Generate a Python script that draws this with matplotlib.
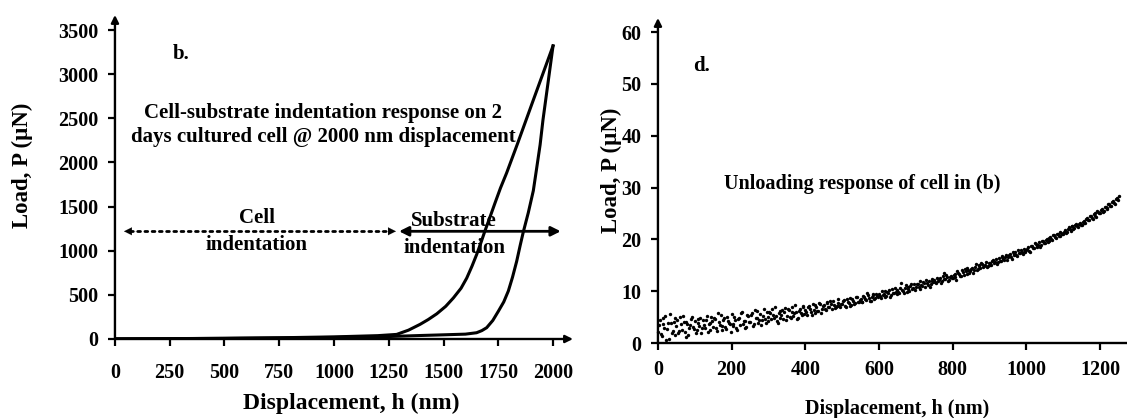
import matplotlib.pyplot as plt

plt.rcParams['font.family'] = ['Liberation Serif', 'DejaVu Serif']
plt.rcParams['font.weight'] = 'bold'
plt.rcParams['axes.labelweight'] = 'bold'

# ---------------------------------------------------------------- data
# (b) loading / unloading, displacement (nm) vs load (uN)
load_x = [0, 250, 500, 750, 1000, 1200, 1286, 1340, 1393, 1430, 1469, 1510,
          1545, 1580, 1606, 1630, 1651, 1670, 1689, 1712, 1735, 1760, 1788,
          1836, 1909, 2000]
load_y = [0, 4, 8, 14, 24, 38, 52, 100, 166, 220, 285, 370,
          465, 575, 690, 825, 955, 1085, 1223, 1380, 1540, 1710, 1880,
          2200, 2700, 3320]
unload_x = [2000, 1977, 1954, 1941, 1925, 1910, 1887, 1864, 1850, 1834, 1815,
            1796, 1775, 1751, 1725, 1697, 1675, 1651, 1600, 1469, 1400, 1250,
            1000, 750, 500, 250, 0]
unload_y = [3320, 2900, 2480, 2200, 1930, 1680, 1430, 1210, 1060, 880, 700,
            544, 420, 317, 210, 128, 95, 71, 55, 45, 40, 28,
            18, 12, 7, 4, 3]

# (d) unloading response of the cell, displacement (nm) vs load (uN)
cell_x = [
    0, 5, 10, 15, 20, 25, 30, 35, 40, 45, 50, 55, 60, 65, 70, 75, 80, 85, 90, 95,
    100, 105, 110, 115, 120, 125, 130, 135, 140, 145, 150, 155, 160, 165, 170,
    175, 180, 185, 190, 195, 200, 205, 210, 215, 220, 225, 230, 235, 240, 245,
    250, 255, 260, 265, 270, 275, 280, 285, 290, 295, 300, 305, 310, 315, 320,
    325, 330, 335, 340, 345, 350, 355, 360, 365, 370, 375, 380, 385, 390, 395,
    400, 405, 410, 415, 420, 425, 430, 435, 440, 445, 450, 455, 460, 465, 470,
    475, 480, 485, 490, 495, 500, 505, 510, 515, 520, 525, 530, 535, 540, 545,
    550, 555, 560, 565, 570, 575, 580, 585, 590, 595, 600, 605, 610, 615, 620,
    625, 630, 635, 640, 645, 650, 655, 660, 665, 670, 675, 680, 685, 690, 695,
    700, 705, 710, 715, 720, 725, 730, 735, 740, 745, 750, 755, 760, 765, 770,
    775, 780, 785, 790, 795, 800, 805, 810, 815, 820, 825, 830, 835, 840, 845,
    850, 855, 860, 865, 870, 875, 880, 885, 890, 895, 900, 905, 910, 915, 920,
    925, 930, 935, 940, 945, 950, 955, 960, 965, 970, 975, 980, 985, 990, 995,
    1000, 1005, 1010, 1015, 1020, 1025, 1030, 1035, 1040, 1045, 1050, 1055,
    1060, 1065, 1070, 1075, 1080, 1085, 1090, 1095, 1100, 1105, 1110, 1115,
    1120, 1125, 1130, 1135, 1140, 1145, 1150, 1155, 1160, 1165, 1170, 1175,
    1180, 1185, 1190, 1195, 1200, 1205, 1210, 1215, 1220, 1225, 1230, 1235,
    1240, 1245, 1250]
cell_y = [
    2.1, 4.4, 1.3, 3.6, 5.2, 2.7, 0.8, 3.9, 2.4, 4.8,
    3.3, 1.9, 5.0, 2.6, 4.1, 1.2, 3.7, 2.9, 4.6, 3.1,
    4.2, 2.5, 3.8, 4.9, 2.8, 3.5, 4.4, 2.2, 3.9, 5.1,
    3.0, 4.6, 2.4, 4.0, 5.4, 3.3, 4.8, 2.7, 4.3, 3.6,
    5.6, 3.2, 4.5, 2.6, 4.9, 5.8, 3.7, 4.2, 3.0, 5.2,
    4.1, 5.7, 3.6, 4.8, 6.2, 4.4, 3.5, 5.3, 4.7, 5.9,
    4.3, 5.8, 6.6, 4.9, 5.3, 3.9, 6.1, 5.5, 4.6, 6.8,
    5.2, 6.3, 4.8, 7.0, 5.7, 6.0, 4.9, 6.6, 5.4, 7.1,
    6.4, 5.5, 7.2, 6.0, 7.5, 5.8, 6.9, 6.2, 7.6, 6.5,
    7.3, 6.4, 7.9, 6.9, 7.5, 8.2, 6.7, 7.1, 7.8, 7.0,
    7.6, 8.3, 7.0, 7.9, 8.6, 7.4, 8.1, 7.7, 8.8, 8.0,
    8.5, 7.9, 8.9, 8.3, 9.3, 8.1, 8.8, 9.4, 8.6, 9.1,
    9.5, 8.7, 9.2, 10.1, 9.0, 9.7, 8.9, 10.4, 9.6, 9.9,
    10.2, 9.6, 11.5, 10.1, 10.6, 9.9, 10.8, 11.0, 10.4, 11.3,
    10.9, 11.4, 10.5, 11.2, 11.8, 10.9, 11.6, 12.0, 11.3, 11.9,
    12.2, 11.5, 12.0, 12.6, 11.9, 13.5, 12.3, 12.8, 12.1, 13.0,
    12.5, 13.3, 12.2, 13.6, 13.0, 14.1, 13.2, 13.8, 14.4, 13.5,
    14.2, 13.6, 14.7, 14.1, 15.0, 14.4, 15.3, 14.8, 15.6, 14.9,
    15.4, 15.0, 16.1, 15.6, 15.2, 16.4, 15.9, 16.6, 16.0, 16.9,
    16.5, 17.2, 16.2, 17.0, 17.6, 16.8, 17.4, 18.0, 17.1, 17.8,
    17.9, 18.5, 17.6, 18.8, 18.3, 19.1, 18.6, 19.4, 18.9, 19.6,
    19.3, 20.0, 19.7, 20.5, 19.9, 20.8, 20.3, 21.1, 20.6, 21.3,
    21.0, 21.8, 21.4, 22.3, 21.7, 22.6, 22.1, 22.9, 22.4, 23.2,
    22.8, 23.6, 23.1, 24.2, 23.7, 24.5, 24.0, 25.0, 24.4, 25.3,
    25.0, 25.9, 25.4, 26.3, 25.8, 26.9, 26.4, 27.4, 26.8, 28.0,
    28.4]
# second pass of samples, read between the first ones
cell_x2 = [
    2.5, 7.5, 12.5, 17.5, 22.5, 27.5, 32.5, 37.5, 42.5, 47.5,
    52.5, 57.5, 62.5, 67.5, 72.5, 77.5, 82.5, 87.5, 92.5, 97.5,
    102.5, 107.5, 112.5, 117.5, 122.5, 127.5, 132.5, 137.5, 142.5, 147.5,
    152.5, 157.5, 162.5, 167.5, 172.5, 177.5, 182.5, 187.5, 192.5, 197.5,
    202.5, 207.5, 212.5, 217.5, 222.5, 227.5, 232.5, 237.5, 242.5, 247.5,
    252.5, 257.5, 262.5, 267.5, 272.5, 277.5, 282.5, 287.5, 292.5, 297.5,
    302.5, 307.5, 312.5, 317.5, 322.5, 327.5, 332.5, 337.5, 342.5, 347.5,
    352.5, 357.5, 362.5, 367.5, 372.5, 377.5, 382.5, 387.5, 392.5, 397.5,
    402.5, 407.5, 412.5, 417.5, 422.5, 427.5, 432.5, 437.5, 442.5, 447.5,
    452.5, 457.5, 462.5, 467.5, 472.5, 477.5, 482.5, 487.5, 492.5, 497.5,
    502.5, 507.5, 512.5, 517.5, 522.5, 527.5, 532.5, 537.5, 542.5, 547.5,
    552.5, 557.5, 562.5, 567.5, 572.5, 577.5, 582.5, 587.5, 592.5, 597.5,
    602.5, 607.5, 612.5, 617.5, 622.5, 627.5, 632.5, 637.5, 642.5, 647.5,
    652.5, 657.5, 662.5, 667.5, 672.5, 677.5, 682.5, 687.5, 692.5, 697.5,
    702.5, 707.5, 712.5, 717.5, 722.5, 727.5, 732.5, 737.5, 742.5, 747.5,
    752.5, 757.5, 762.5, 767.5, 772.5, 777.5, 782.5, 787.5, 792.5, 797.5,
    802.5, 807.5, 812.5, 817.5, 822.5, 827.5, 832.5, 837.5, 842.5, 847.5,
    852.5, 857.5, 862.5, 867.5, 872.5, 877.5, 882.5, 887.5, 892.5, 897.5,
    902.5, 907.5, 912.5, 917.5, 922.5, 927.5, 932.5, 937.5, 942.5, 947.5,
    952.5, 957.5, 962.5, 967.5, 972.5, 977.5, 982.5, 987.5, 992.5, 997.5,
    1002.5, 1007.5, 1012.5, 1017.5, 1022.5, 1027.5, 1032.5, 1037.5, 1042.5,
    1047.5, 1052.5, 1057.5, 1062.5, 1067.5, 1072.5, 1077.5, 1082.5, 1087.5,
    1092.5, 1097.5, 1102.5, 1107.5, 1112.5, 1117.5, 1122.5, 1127.5, 1132.5,
    1137.5, 1142.5, 1147.5, 1152.5, 1157.5, 1162.5, 1167.5, 1172.5, 1177.5,
    1182.5, 1187.5, 1192.5, 1197.5, 1202.5, 1207.5, 1212.5, 1217.5, 1222.5,
    1227.5, 1232.5, 1237.5, 1242.5, 1247.5]
cell_y2 = [
    3.4, 1.7, 4.9, 2.8, 0.6, 3.8, 5.6, 2.0, 4.1, 1.5,
    4.5, 2.3, 3.6, 5.3, 2.1, 4.0, 1.6, 3.4, 5.1, 2.7,
    2.0, 4.7, 3.2, 1.9, 4.5, 2.9, 5.3, 3.6, 2.6, 4.3,
    4.9, 2.9, 5.7, 3.5, 2.6, 4.4, 3.1, 5.1, 3.8, 2.2,
    3.6, 5.1, 2.8, 4.7, 3.4, 6.0, 4.3, 2.9, 5.4, 4.0,
    5.4, 3.3, 6.3, 4.9, 3.9, 5.6, 4.5, 6.5, 3.8, 5.0,
    6.0, 4.6, 5.4, 6.9, 4.2, 5.7, 4.8, 6.3, 5.9, 4.5,
    6.5, 5.0, 6.0, 5.3, 7.3, 4.7, 6.2, 5.8, 7.0, 5.6,
    5.9, 7.0, 6.6, 5.4, 6.3, 7.4, 6.1, 7.8, 5.7, 7.1,
    6.6, 7.7, 7.0, 8.1, 6.5, 7.4, 6.9, 8.4, 7.2, 7.6,
    8.1, 7.2, 8.5, 7.8, 7.1, 8.4, 7.6, 8.9, 7.9, 8.3,
    8.0, 9.0, 8.4, 9.6, 8.7, 8.2, 9.2, 8.5, 9.5, 8.9,
    9.1, 10.0, 9.4, 8.8, 9.8, 10.3, 9.3, 9.7, 10.6, 9.4,
    9.9, 10.7, 10.3, 9.7, 11.1, 10.5, 10.0, 11.4, 10.6, 10.2,
    11.3, 10.8, 11.9, 11.0, 11.5, 12.1, 11.2, 10.9, 12.3, 11.7,
    11.8, 12.6, 12.1, 11.6, 12.9, 12.4, 13.1, 12.0, 12.7, 12.5,
    13.1, 12.8, 13.8, 13.4, 12.9, 13.7, 14.3, 13.3, 14.0, 13.9,
    14.5, 14.0, 15.2, 14.3, 14.8, 15.5, 14.6, 15.1, 14.7, 15.4,
    15.1, 15.8, 15.5, 16.3, 15.7, 15.9, 16.7, 16.2, 16.5, 16.1,
    17.0, 16.6, 17.5, 17.2, 16.9, 17.9, 17.3, 17.6, 18.2, 17.5,
    18.2, 17.8, 18.7, 18.4, 19.3, 18.8, 19.0, 18.6, 19.7, 19.2,
    19.8, 19.5, 20.3, 20.1, 20.9, 20.4, 21.0, 20.7, 21.4, 21.0,
    21.5, 21.2, 22.0, 21.9, 22.5, 22.0, 22.8, 22.6, 23.0, 22.7,
    23.4, 23.2, 24.0, 23.8, 24.6, 24.1, 24.9, 24.6, 25.4, 25.1,
    25.6, 25.3, 26.2, 26.0, 26.8, 26.5, 27.3, 27.0, 27.8, 27.5]

b_xticks = [0, 250, 500, 750, 1000, 1250, 1500, 1750, 2000]
b_yticks = [0, 500, 1000, 1500, 2000, 2500, 3000, 3500]
d_xticks = [0, 200, 400, 600, 800, 1000, 1200]
d_yticks = [0, 10, 20, 30, 40, 50, 60]

# ---------------------------------------------------------------- figure
fig = plt.figure(figsize=(11.27, 4.18), dpi=100)
fig.patch.set_facecolor('white')

axb = fig.add_axes([0.1020, 0.1890, 0.4064, 0.7751])
axd = fig.add_axes([0.5838, 0.1794, 0.4162, 0.7775])


def style_axes(ax, xlim, ylim, xticks, yticks, xpad, ypad, arrow_x=True):
    ax.set_xlim(*xlim)
    ax.set_ylim(*ylim)
    ax.set_xticks(xticks)
    ax.set_yticks(yticks)
    for s in ['top', 'right', 'left', 'bottom']:
        ax.spines[s].set_visible(False)
    ax.tick_params(axis='x', length=5, width=1.6, labelsize=14.5, pad=xpad)
    ax.tick_params(axis='y', length=5, width=1.6, labelsize=14.5, pad=ypad)
    # axis lines with arrow heads
    ax.annotate('', xy=(0, 1), xytext=(0, 0), xycoords='axes fraction',
                arrowprops=dict(arrowstyle='-|>', lw=1.7, color='k',
                                mutation_scale=11, shrinkA=0, shrinkB=0))
    if arrow_x:
        ax.annotate('', xy=(1, 0), xytext=(0, 0), xycoords='axes fraction',
                    arrowprops=dict(arrowstyle='-|>', lw=1.7, color='k',
                                    mutation_scale=11, shrinkA=0, shrinkB=0))
    else:
        ax.plot([0, 1], [0, 0], color='k', lw=1.7, transform=ax.transAxes,
                clip_on=False)


# ---------------------------------------------------------------- (b)
style_axes(axb, (0, 2091), (0, 3670), b_xticks, b_yticks, xpad=12, ypad=7)
axb.plot(load_x, load_y, color='k', lw=2.2, solid_joinstyle='round')
axb.plot(unload_x, unload_y, color='k', lw=2.2, solid_joinstyle='round')

axb.set_xlabel('Displacement, h (nm)', fontsize=17)
axb.set_ylabel('Load, P (\u00b5N)', fontsize=16.5)
axb.xaxis.set_label_coords(0.517, -0.167)
axb.yaxis.set_label_coords(-0.179, 0.537)

axb.text(300, 3230, 'b.', ha='center', va='center', fontsize=15)
axb.text(950, 2425, 'Cell-substrate indentation response on 2\n'
         'days cultured cell @ 2000 nm displacement',
         ha='center', va='center', fontsize=15, linespacing=1.3)

# cell indentation (dotted) and substrate indentation (solid) arrows
arrow_y = 1220
axb.plot([70, 1250], [arrow_y, arrow_y], color='k', lw=2.0,
         linestyle=(0, (1, 1.6)), dash_capstyle='round')
axb.annotate('', xy=(41, arrow_y), xytext=(120, arrow_y),
             arrowprops=dict(arrowstyle='-|>', lw=0.1, color='k',
                             mutation_scale=14, shrinkA=0, shrinkB=0))
axb.annotate('', xy=(1283, arrow_y), xytext=(1200, arrow_y),
             arrowprops=dict(arrowstyle='-|>', lw=0.1, color='k',
                             mutation_scale=14, shrinkA=0, shrinkB=0))
axb.annotate('', xy=(1297, arrow_y), xytext=(2035, arrow_y),
             arrowprops=dict(arrowstyle='<|-|>', lw=2.0, color='k',
                             mutation_scale=14, shrinkA=0, shrinkB=0))
axb.text(647, 1375, 'Cell', ha='center', va='center', fontsize=15)
axb.text(647, 1065, 'indentation', ha='center', va='center', fontsize=15)
axb.text(1545, 1335, 'Substrate', ha='center', va='center', fontsize=15)
axb.text(1550, 1035, 'indentation', ha='center', va='center', fontsize=15)

# ---------------------------------------------------------------- (d)
style_axes(axd, (0, 1273), (0, 62.7), d_xticks, d_yticks, xpad=7, ypad=7,
           arrow_x=False)
axd.scatter(cell_x, cell_y, s=6, color='k', linewidths=0, clip_on=False)
axd.scatter(cell_x2, cell_y2, s=6, color='k', linewidths=0, clip_on=False)
axd.set_xlabel('Displacement, h (nm)', fontsize=14.5)
axd.set_ylabel('Load, P (\u00b5N)', fontsize=16.5)
axd.xaxis.set_label_coords(0.51, -0.172)
axd.yaxis.set_label_coords(-0.077, 0.532)
axd.text(119, 53.4, 'd.', ha='center', va='center', fontsize=15)
axd.text(554, 30.7, 'Unloading response of cell in (b)', ha='center',
         va='center', fontsize=14.5)

fig.savefig('out.png', dpi=100, facecolor='white')
